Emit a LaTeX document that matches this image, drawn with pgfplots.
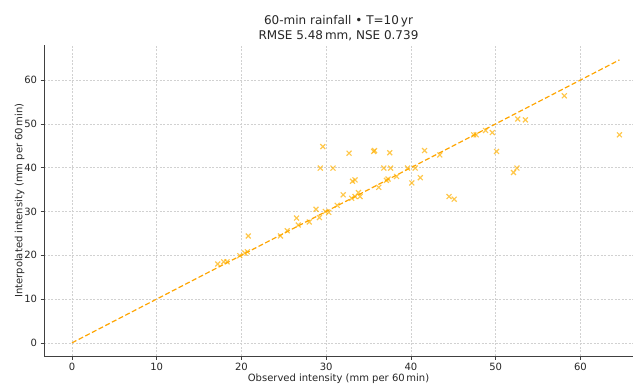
\documentclass[border=0pt]{standalone}
\usepackage{pgfplots}
\pgfplotsset{compat=1.18}
\usepackage{fontspec}
\setmainfont{DejaVu Sans}
\definecolor{mplorange}{HTML}{FFA500}
\definecolor{txt}{HTML}{262626}
\begin{document}
\begin{tikzpicture}
\useasboundingbox (-44bp,-29bp) rectangle (589bp,356bp);
\begin{axis}[
  at={(0,0)}, anchor=south west,
  scale only axis, width=589bp, height=311bp,
  xmin=-3.3, xmax=66.2, ymin=-3.0, ymax=68,
  axis x line*=bottom, axis y line*=left,
  axis line style={black!75, line width=0.7pt},
  xtick={0,10,...,60}, ytick={0,10,...,60},
  tick align=outside, major tick length=3.5bp,
  tick style={black!75, line width=0.6pt},
  grid=major,
  major grid style={black!18, dash pattern=on 2bp off 1.5bp, line width=0.5pt},
  /pgf/number format/assume math mode=true,
  ticklabel style={font=\fontsize{10bp}{12bp}\selectfont, text=txt},
  xlabel={Observed intensity (mm per 60\,min)},
  ylabel={Interpolated intensity (mm per 60\,min)},
  label style={font=\fontsize{10bp}{12bp}\selectfont, text=txt},
  xlabel style={yshift=4bp},
  ylabel style={yshift=-7bp},
  title style={font=\fontsize{12bp}{15bp}\selectfont, text=txt, align=center, yshift=-5bp},
  title={60-min rainfall • T=10\,yr\\RMSE 5.48\,mm, NSE 0.739},
  clip=false,
]
\addplot[mplorange, line width=1.2pt, dash pattern=on 5bp off 2.5bp] coordinates {(0,0) (64.6,64.6)};
\addplot[only marks, mark=x, mark size=3.5bp, color={rgb,255:red,255;green,176;blue,0}, mark options={line width=1.15pt, draw opacity=0.7}] coordinates {
(17.2,18.0) (17.9,18.5) (18.3,18.5) (19.8,19.9) (20.4,20.5) (20.7,20.8)
(20.8,24.4) (24.6,24.4) (25.4,25.6) (26.5,28.5) (26.7,26.9) (28.0,27.6)
(28.8,30.5) (29.2,28.6) (29.9,30.0) (30.3,29.8) (31.3,31.4) (32.0,33.8)
(33.0,33.0) (33.4,33.4) (33.8,34.3) (34.0,33.4) (33.1,36.9) (33.4,37.2)
(29.6,44.8) (29.3,39.9) (30.8,39.9) (32.7,43.3) (35.7,43.9) (35.6,43.7)
(37.5,43.4) (36.8,39.9) (37.6,39.9) (39.6,39.9) (40.5,39.9) (41.6,43.9)
(43.4,42.9) (40.1,36.5) (41.1,37.7) (38.3,38.0) (37.1,37.1) (37.3,37.4)
(36.2,35.5) (44.5,33.4) (45.1,32.8) (47.4,47.5) (47.7,47.5) (48.8,48.5)
(49.6,48.0) (50.1,43.7) (52.1,38.9) (52.5,39.9) (52.6,51.1) (53.5,50.9)
(58.1,56.4) (64.6,47.5)
};
\end{axis}
\end{tikzpicture}
\end{document}
